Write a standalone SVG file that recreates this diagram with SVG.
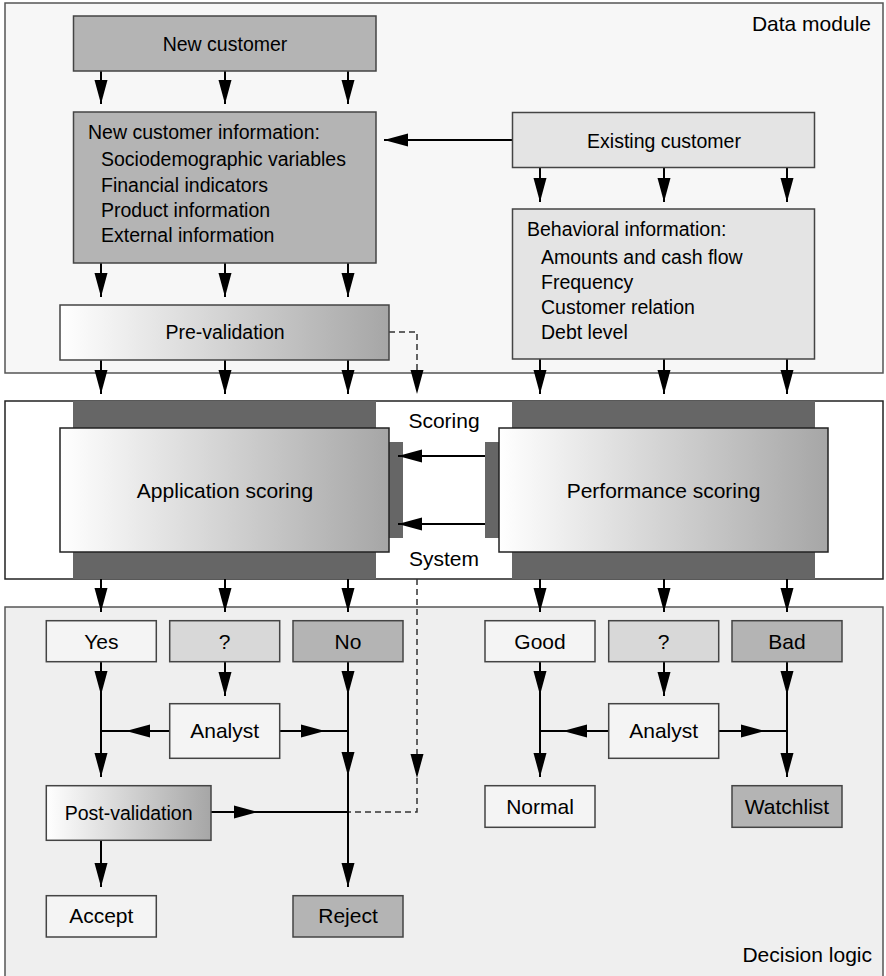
<svg xmlns="http://www.w3.org/2000/svg" width="886" height="976" viewBox="0 0 886 976">
<defs>
<linearGradient id="grad" x1="0" y1="0" x2="1" y2="0">
<stop offset="0" stop-color="#ffffff"/>
<stop offset="1" stop-color="#a6a6a6"/>
</linearGradient>
<marker id="arr" markerUnits="userSpaceOnUse" markerWidth="24" markerHeight="14" refX="24" refY="6.5" orient="auto" viewBox="0 0 24 13">
<path d="M0,0 L24,6.5 L0,13 z" fill="#000"/>
</marker>
</defs>
<style>
text{font-family:"Liberation Sans",Arial,Helvetica,sans-serif;fill:#000;}
.t19{font-size:19.5px;}
.t21{font-size:21px;}
.c{text-anchor:middle;}
.e{text-anchor:end;}
.frame{stroke:#555;stroke-width:1.5;}
.box{stroke:#444;stroke-width:1.5;}
.dark{fill:#666;stroke:none;}
.w{fill:#f4f4f4;}
.m{fill:#d8d8d8;}
.g{fill:#b4b4b4;}
.l{fill:#e4e4e4;}
.gr{fill:url(#grad);}
.ln{fill:none;stroke:#000;stroke-width:2;}
.a{marker-end:url(#arr);}
.dash{fill:none;stroke:#333;stroke-width:1.5;stroke-dasharray:6 4;}
</style>

<g id="data-module">
<rect class="frame" x="5" y="3" width="878" height="370" fill="#f7f7f7"/>
<text class="t21 e" x="871" y="31">Data module</text>
</g>
<g id="scoring-system">
<rect x="5" y="401" width="878" height="178" fill="#fff" stroke="#222" stroke-width="1.5"/>
<text class="t21 c" x="444" y="428">Scoring</text>
<text class="t21 c" x="444" y="566">System</text>
</g>
<g id="decision-logic">
<rect class="frame" x="5" y="607" width="878" height="375" fill="#efefef"/>
<text class="t21 e" x="872" y="962">Decision logic</text>
</g>

<g id="connectors">
<line class="ln a" x1="101" y1="71" x2="101" y2="104"/>
<line class="ln a" x1="225" y1="71" x2="225" y2="104"/>
<line class="ln a" x1="348" y1="71" x2="348" y2="104"/>
<line class="ln a" x1="101" y1="263" x2="101" y2="297"/>
<line class="ln a" x1="225" y1="263" x2="225" y2="297"/>
<line class="ln a" x1="348" y1="263" x2="348" y2="297"/>
<line class="ln a" x1="512" y1="140" x2="384" y2="140"/>
<line class="ln a" x1="540" y1="167" x2="540" y2="202"/>
<line class="ln a" x1="664" y1="167" x2="664" y2="202"/>
<line class="ln a" x1="787" y1="167" x2="787" y2="202"/>
<line class="ln a" x1="101" y1="360" x2="101" y2="394"/>
<line class="ln a" x1="225" y1="360" x2="225" y2="394"/>
<line class="ln a" x1="348" y1="360" x2="348" y2="394"/>
<line class="ln a" x1="540" y1="359" x2="540" y2="394"/>
<line class="ln a" x1="664" y1="359" x2="664" y2="394"/>
<line class="ln a" x1="787" y1="359" x2="787" y2="394"/>
<path class="dash a" d="M389,332 H417 V394"/>
<line class="ln a" x1="101" y1="579" x2="101" y2="612"/>
<line class="ln a" x1="225" y1="579" x2="225" y2="612"/>
<line class="ln a" x1="348" y1="579" x2="348" y2="612"/>
<line class="ln a" x1="540" y1="579" x2="540" y2="612"/>
<line class="ln a" x1="664" y1="579" x2="664" y2="612"/>
<line class="ln a" x1="787" y1="579" x2="787" y2="612"/>
<path class="dash a" d="M417,579 V778"/>
<path class="dash" d="M417,778 V812 H348"/>
<line class="ln a" x1="101" y1="662" x2="101" y2="695"/>
<line class="ln a" x1="101" y1="695" x2="101" y2="777"/>
<line class="ln a" x1="225" y1="662" x2="225" y2="696"/>
<line class="ln a" x1="348" y1="662" x2="348" y2="695"/>
<line class="ln a" x1="348" y1="695" x2="348" y2="776"/>
<line class="ln a" x1="348" y1="776" x2="348" y2="887"/>
<line class="ln a" x1="170" y1="731" x2="126" y2="731"/>
<line class="ln" x1="126" y1="731" x2="101" y2="731"/>
<line class="ln a" x1="280" y1="731" x2="325" y2="731"/>
<line class="ln" x1="325" y1="731" x2="348" y2="731"/>
<line class="ln a" x1="211" y1="812" x2="258" y2="812"/>
<line class="ln" x1="258" y1="812" x2="348" y2="812"/>
<line class="ln a" x1="101" y1="840" x2="101" y2="887"/>
<line class="ln a" x1="540" y1="662" x2="540" y2="695"/>
<line class="ln a" x1="540" y1="695" x2="540" y2="777"/>
<line class="ln a" x1="664" y1="662" x2="664" y2="696"/>
<line class="ln a" x1="787" y1="662" x2="787" y2="695"/>
<line class="ln a" x1="787" y1="695" x2="787" y2="777"/>
<line class="ln a" x1="609" y1="731" x2="563" y2="731"/>
<line class="ln" x1="563" y1="731" x2="540" y2="731"/>
<line class="ln a" x1="719" y1="731" x2="765" y2="731"/>
<line class="ln" x1="765" y1="731" x2="787" y2="731"/>
</g>

<g id="new-customer">
<rect class="box g" x="73.5" y="16" width="302.5" height="55"/>
<text class="t19 c" x="225" y="51">New customer</text>
</g>
<g id="new-customer-information">
<rect class="box g" x="73.5" y="112" width="302.5" height="151"/>
<text class="t19" x="88" y="139">New customer information:</text>
<text class="t19" x="101" y="166">Sociodemographic variables</text>
<text class="t19" x="101" y="192">Financial indicators</text>
<text class="t19" x="101" y="217">Product information</text>
<text class="t19" x="101" y="242">External information</text>
</g>
<g id="existing-customer">
<rect class="box l" x="512.5" y="112.5" width="302" height="55"/>
<text class="t19 c" x="664" y="148">Existing customer</text>
</g>
<g id="behavioral-information">
<rect class="box l" x="512.5" y="209" width="302" height="150"/>
<text class="t19" x="527" y="236">Behavioral information:</text>
<text class="t19" x="541" y="264">Amounts and cash flow</text>
<text class="t19" x="541" y="289">Frequency</text>
<text class="t19" x="541" y="314">Customer relation</text>
<text class="t19" x="541" y="339">Debt level</text>
</g>
<g id="pre-validation">
<rect class="box gr" x="60" y="305" width="329" height="55"/>
<text class="t19 c" x="225" y="339">Pre-validation</text>
</g>

<g id="application-scoring">
<rect class="dark" x="73" y="401" width="303" height="178"/>
<rect class="dark" x="389" y="442" width="14" height="96"/>
<rect class="gr" x="60" y="428" width="329" height="124" stroke="#222" stroke-width="1.5"/>
<text class="t21 c" x="225" y="498">Application scoring</text>
</g>
<g id="performance-scoring">
<rect class="dark" x="512" y="401" width="303" height="178"/>
<rect class="dark" x="485" y="442" width="14" height="96"/>
<rect class="gr" x="499" y="428" width="329" height="124" stroke="#222" stroke-width="1.5"/>
<text class="t21 c" x="663.5" y="498">Performance scoring</text>
</g>
<g id="scoring-arrows">
<line class="ln a" x1="485" y1="456" x2="398" y2="456"/>
<line class="ln a" x1="485" y1="524" x2="398" y2="524"/>
</g>

<g id="yes"><rect class="box w" x="46.3" y="620.7" width="110" height="41"/><text class="t21 c" x="101.3" y="649">Yes</text></g>
<g id="app-unknown"><rect class="box m" x="169.7" y="620.7" width="110" height="41"/><text class="t21 c" x="224.7" y="649">?</text></g>
<g id="no"><rect class="box g" x="293" y="620.7" width="110" height="41"/><text class="t21 c" x="348" y="649">No</text></g>
<g id="app-analyst"><rect class="box w" x="169.7" y="703.7" width="110" height="54.6"/><text class="t21 c" x="224.7" y="738">Analyst</text></g>
<g id="post-validation"><rect class="box gr" x="46.3" y="785.7" width="164.7" height="54.6"/><text class="t19 c" x="128.6" y="820">Post-validation</text></g>
<g id="accept"><rect class="box w" x="46.3" y="895.7" width="110" height="41.3"/><text class="t21 c" x="101.3" y="923">Accept</text></g>
<g id="reject"><rect class="box g" x="293" y="895.7" width="110" height="41.3"/><text class="t21 c" x="348" y="923">Reject</text></g>

<g id="good"><rect class="box w" x="485" y="620.7" width="110" height="41"/><text class="t21 c" x="540" y="649">Good</text></g>
<g id="perf-unknown"><rect class="box m" x="608.7" y="620.7" width="110" height="41"/><text class="t21 c" x="663.7" y="649">?</text></g>
<g id="bad"><rect class="box g" x="732" y="620.7" width="110" height="41"/><text class="t21 c" x="787" y="649">Bad</text></g>
<g id="perf-analyst"><rect class="box w" x="608.7" y="703.7" width="110" height="54.6"/><text class="t21 c" x="663.7" y="738">Analyst</text></g>
<g id="normal"><rect class="box w" x="485" y="785.7" width="110" height="41.6"/><text class="t21 c" x="540" y="813.5">Normal</text></g>
<g id="watchlist"><rect class="box g" x="732" y="785.7" width="110" height="41.6"/><text class="t21 c" x="787" y="813.5">Watchlist</text></g>
</svg>
